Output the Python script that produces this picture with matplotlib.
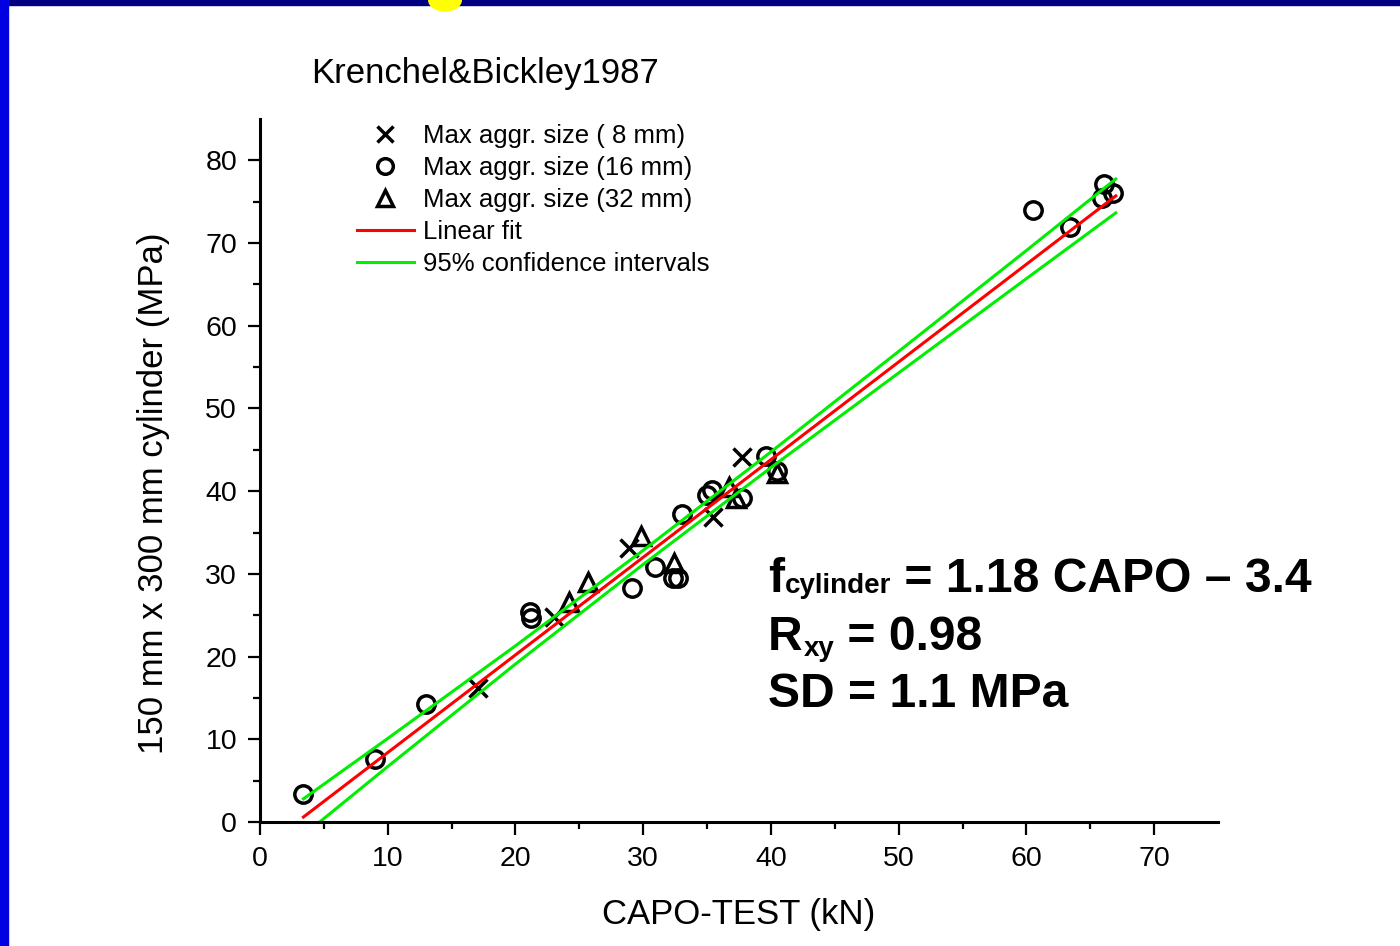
import numpy as np
import matplotlib.pyplot as plt
from matplotlib.patches import Rectangle, Circle

plt.rcParams['font.family'] = ['Liberation Sans', 'DejaVu Sans']

# данные: CAPO-TEST (kN) и прочность цилиндров (MPa)
x_8mm = [17.1, 23.0, 28.9, 35.5, 37.7]
y_8mm = [16.2, 24.8, 33.1, 36.9, 44.1]

x_16mm = [3.4, 9.0, 13.0, 21.1, 21.2, 29.1, 30.9, 32.3, 32.7, 33.0,
          35.0, 35.4, 37.7, 39.6, 40.5, 60.5, 63.4, 66.1, 65.9, 66.8]
y_16mm = [3.4, 7.6, 14.3, 25.4, 24.7, 28.3, 30.8, 29.5, 29.5, 37.3,
          39.5, 40.1, 39.2, 44.2, 42.5, 74.0, 71.9, 77.1, 75.4, 76.1]

x_32mm = [24.2, 25.7, 29.8, 32.4, 36.7, 37.3, 40.5]
y_32mm = [26.6, 29.0, 34.6, 31.3, 40.5, 39.2, 42.2]

# линия регрессии и доверительные интервалы
fit_x = [3.4, 67.0]
fit_y = [0.6, 75.7]
band_x = [3.4, 10, 20, 30, 40, 50, 60, 67]
band_upper = [2.8, 10.1, 21.3, 32.85, 44.75, 56.9, 69.1, 77.75]
band_lower = [-1.6, 6.7, 19.1, 31.15, 42.85, 54.3, 65.7, 73.65]

legend_labels = ['Max aggr. size ( 8 mm)', 'Max aggr. size (16 mm)',
                 'Max aggr. size (32 mm)', 'Linear fit', '95% confidence intervals']

# строки уравнения: (основной текст, подстрочный индекс, остаток)
eq_lines = [('f', 'cylinder', ' = 1.18 CAPO – 3.4'),
            ('R', 'xy', ' = 0.98'),
            ('SD = 1.1 MPa', '', '')]
eq_sub_drop = [1, 6, 0]

W, H = 1400, 946
fig = plt.figure(figsize=(W / 100, H / 100), dpi=100)

# рамка слайда
fig.patches.append(Rectangle((0, 1 - 5 / H), 1, 5 / H, transform=fig.transFigure,
                             color='#000080', zorder=0))
fig.patches.append(Rectangle((0, 0), 8 / W, 1, transform=fig.transFigure,
                             color='#0000e0', zorder=0))
fig.patches.append(Circle((445 / W, 1.0), 11 / H, transform=fig.transFigure,
                          color='#ffff00', zorder=1))

ax = fig.add_axes([260 / W, 1 - 822 / H, (1218 - 260) / W, (822 - 119) / H])

ms = 12.5
mew = 2.5
h1, = ax.plot(x_8mm, y_8mm, linestyle='none', marker='x', markersize=ms,
              markeredgewidth=mew, color='black', label=legend_labels[0])
h2, = ax.plot(x_16mm, y_16mm, linestyle='none', marker='o', markersize=ms,
              markeredgewidth=mew, markerfacecolor='none', markeredgecolor='black',
              label=legend_labels[1])
h3, = ax.plot(x_32mm, y_32mm, linestyle='none', marker='^', markersize=ms + 1,
              markeredgewidth=mew, markerfacecolor='none', markeredgecolor='black',
              label=legend_labels[2])
h4, = ax.plot(fit_x, fit_y, color='#ff0000', linewidth=2.2, label=legend_labels[3])
h5, = ax.plot(band_x, band_upper, color='#00ee00', linewidth=2.2, label=legend_labels[4])
ax.plot(band_x, band_lower, color='#00ee00', linewidth=2.2)

ax.set_xlim(0, 75)
ax.set_ylim(0, 85)
ax.set_xticks(np.arange(0, 71, 10))
ax.set_yticks(np.arange(0, 81, 10))
ax.set_xticks(np.arange(5, 75, 10), minor=True)
ax.set_yticks(np.arange(5, 85, 10), minor=True)
ax.tick_params(which='major', direction='out', length=9, width=1.6, labelsize=20.5)
ax.tick_params(axis='x', which='major', pad=8.5)
ax.tick_params(axis='y', which='major', pad=7.5)
ax.tick_params(which='minor', direction='out', length=5, width=1.6)
for s in ['top', 'right']:
    ax.spines[s].set_visible(False)
for s in ['left', 'bottom']:
    ax.spines[s].set_linewidth(2.2)

leg = ax.legend(handles=[h1, h2, h3, h4, h5], loc='upper left',
                bbox_to_anchor=(357 / W, 1 - 124 / H), bbox_transform=fig.transFigure,
                frameon=False, fontsize=18.5, handlelength=2.2, handletextpad=0.36,
                labelspacing=0.31, borderpad=0, borderaxespad=0, markerscale=0.9)

fig.text(311 / W, 1 - 73 / H, 'Krenchel&Bickley1987', fontsize=25, ha='left', va='center')
fig.text(739 / W, 1 - 914 / H, 'CAPO-TEST (kN)', fontsize=25, ha='center', va='center')
fig.text(153 / W, 1 - 493 / H, '150 mm x 300 mm cylinder (MPa)', fontsize=25,
         rotation=90, ha='center', va='center')

# уравнение регрессии: части текста ставятся друг за другом
fs_eq = 34.6
fs_sub = 20
renderer = fig.canvas.get_renderer()
baselines = [592, 650, 707]
for (main, sub, rest), base, drop in zip(eq_lines, baselines, eq_sub_drop):
    xpos = 768
    t = fig.text(xpos / W, 1 - base / H, main, fontsize=fs_eq, fontweight='bold',
                 ha='left', va='baseline')
    xpos = t.get_window_extent(renderer).x1 + 1
    if sub:
        t = fig.text(xpos / W, 1 - (base + drop) / H, sub, fontsize=fs_sub,
                     fontweight='bold', ha='left', va='baseline')
        xpos = t.get_window_extent(renderer).x1
    if rest:
        fig.text(xpos / W, 1 - base / H, rest, fontsize=fs_eq, fontweight='bold',
                 ha='left', va='baseline')

fig.savefig('out.png', dpi=100)
